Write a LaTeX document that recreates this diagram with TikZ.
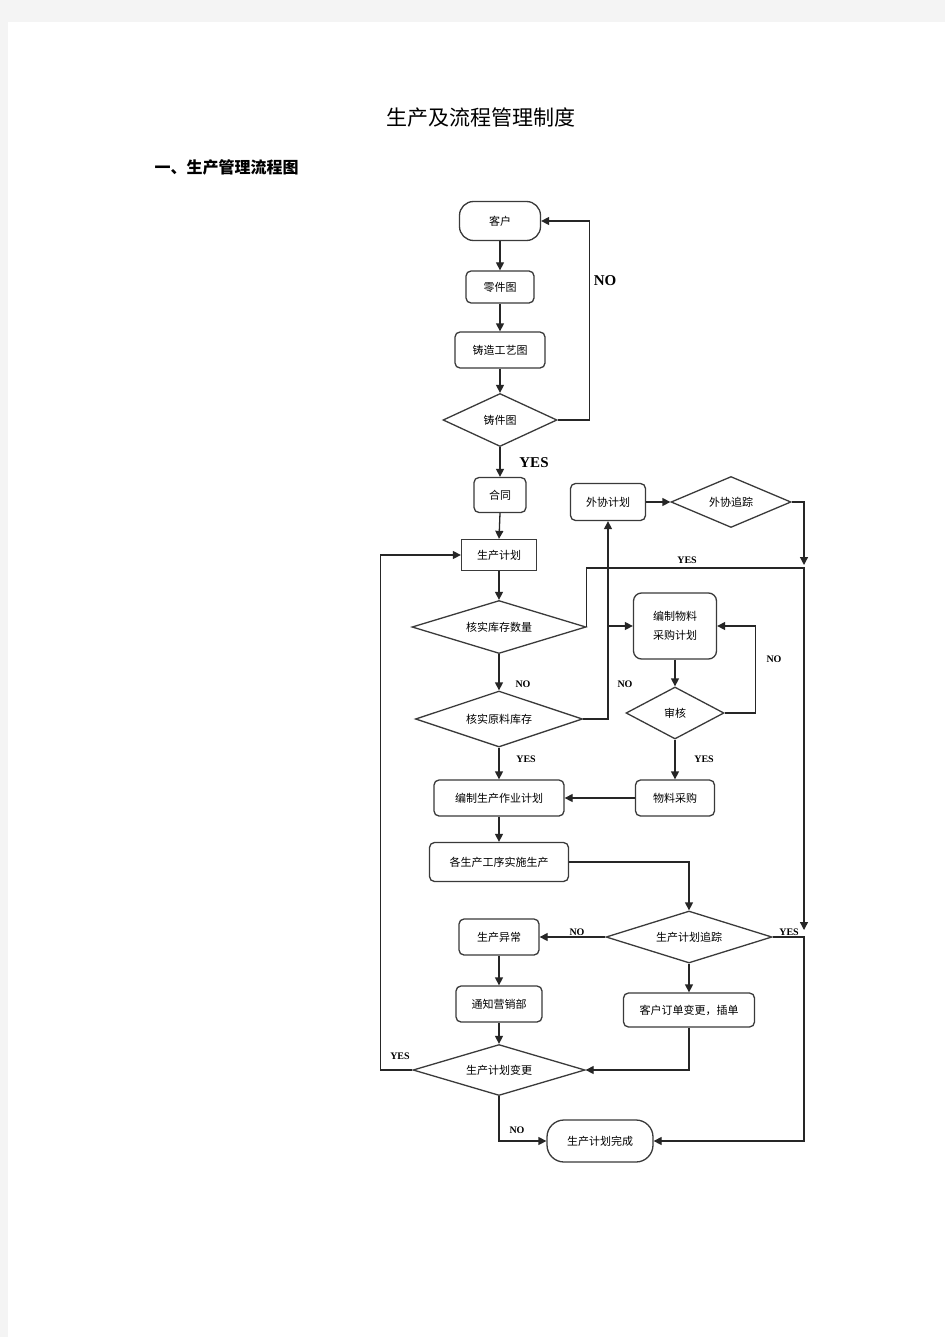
\documentclass[tikz,border=0pt]{standalone}
\usepackage{fontspec}
\setmainfont{Liberation Serif}
\newfontfamily\cjk{Noto Sans CJK SC}
\usetikzlibrary{shapes.geometric,arrows.meta}
\definecolor{pagegray}{HTML}{F4F4F4}
\definecolor{boxline}{HTML}{3A3A3A}
\tikzset{
  box/.style={draw=boxline, line width=1.3pt, rounded corners=5pt, fill=white, inner sep=0pt, font=\cjk\fontsize{11}{14}\selectfont, align=center},
  pill/.style={box, rounded corners=14pt},
  dia/.style={draw=boxline, line width=1.3pt, diamond, aspect=3.3, fill=white, inner sep=0pt, font=\cjk\fontsize{11}{14}\selectfont},
  arr/.style={line width=1.3pt, draw=black!85, -{Triangle[length=8pt,width=8pt]}},
  line/.style={line width=1.3pt, draw=black!85},
  lab/.style={font=\bfseries\fontsize{10}{12}\selectfont, inner sep=0pt},
  biglab/.style={font=\bfseries\fontsize{15}{18}\selectfont, inner sep=0pt}
}
\begin{document}
\begin{tikzpicture}[x=1pt,y=-1pt]
\fill[pagegray] (0,0) rectangle (945,1337);
\fill[white] (8,22) rectangle (945,1337);
\node[font=\cjk\fontsize{21}{26}\selectfont] (title) at (481,118) {生产及流程管理制度};
\node[font=\cjk\bfseries\fontsize{16}{20}\selectfont, anchor=west] (sub) at (151,167) {一、生产管理流程图};
\node[pill, minimum width=81, minimum height=39] (kehu) at (500,221) {客户};
\node[box, minimum width=68, minimum height=32] (lingjian) at (500,287) {零件图};
\node[box, minimum width=90, minimum height=36] (zhuzao) at (500,350) {铸造工艺图};
\node[dia, minimum width=114, minimum height=53] (zjt) at (500,420) {铸件图};
\node[box, minimum width=52, minimum height=35] (hetong) at (500,495) {合同};
\node[box, rounded corners=0pt, minimum width=75, minimum height=31] (jihua) at (499,555) {生产计划};
\node[box, minimum width=75, minimum height=37] (waixie) at (608,502) {外协计划};
\node[dia, minimum width=120, minimum height=51] (zhuizong) at (731,502) {外协追踪};
\node[dia, minimum width=174, minimum height=53] (kucun) at (499,627) {核实库存数量};
\node[box, rounded corners=8pt, minimum width=83, minimum height=66] (wuliao) at (675,626) {编制物料\\[5pt]采购计划};
\node[dia, minimum width=167, minimum height=56] (yuanliao) at (499,719) {核实原料库存};
\node[dia, minimum width=98, minimum height=52] (shenhe) at (675,713) {审核};
\node[box, minimum width=130, minimum height=36] (bianzhi) at (499,798) {编制生产作业计划};
\node[box, minimum width=79, minimum height=36] (caigou) at (675,798) {物料采购};
\node[box, minimum width=139, minimum height=39] (gexu) at (499,862) {各生产工序实施生产};
\node[dia, minimum width=166, minimum height=52] (gzz) at (689,937) {生产计划追踪};
\node[box, minimum width=80, minimum height=36] (yichang) at (499,937) {生产异常};
\node[box, minimum width=86, minimum height=36] (tongzhi) at (499,1004) {通知营销部};
\node[box, minimum width=131, minimum height=34] (dingdan) at (689,1010) {客户订单变更，插单};
\node[dia, minimum width=172, minimum height=51] (biangeng) at (499,1070) {生产计划变更};
\node[pill, rounded corners=17pt, minimum width=106, minimum height=42] (wancheng) at (600,1141) {生产计划完成};
\coordinate (r1) at (804,565);
\coordinate (r2) at (804,568);
\coordinate (r3) at (804,930);
\coordinate (r4) at (804,937);
\draw[arr] (kehu) -- (lingjian);
\draw[arr] (lingjian) -- (zhuzao);
\draw[arr] (zhuzao.south) -- (zjt.north);
\draw[arr] (zjt.east) -- ++(32,0) |- (kehu.east);
\draw[arr] (zjt.south) -- (hetong.north);
\draw[arr] (hetong.south) -- (jihua.north);
\draw[arr] (jihua.south) -- (kucun.north);
\draw[arr] (kucun.south) -- (yuanliao.north);
\draw[arr] (yuanliao.south) -- (bianzhi.north);
\draw[arr] (yuanliao.east) -| (waixie.south);
\draw[arr] (waixie.south |- wuliao.west) -- (wuliao.west);
\draw[arr] (waixie.east) -- (zhuizong.west);
\draw[arr] (zhuizong.east) -| (r1);
\draw[arr] (kucun.east) |- (r2) -- (r3);
\draw[arr] (wuliao.south) -- (shenhe.north);
\draw[arr] (shenhe.east) -- ++(31,0) |- (wuliao.east);
\draw[arr] (shenhe.south) -- (caigou.north);
\draw[arr] (caigou.west) -- (bianzhi.east);
\draw[arr] (bianzhi.south) -- (gexu.north);
\draw[arr] (gexu.east) -| (gzz.north);
\draw[arr] (gzz.west) -- (yichang.east);
\draw[arr] (gzz.south) -- (dingdan.north);
\draw[arr] (gzz.east) -- (r4) |- (wancheng.east);
\draw[arr] (yichang.south) -- (tongzhi.north);
\draw[arr] (tongzhi.south) -- (biangeng.north);
\draw[arr] (dingdan.south) |- (biangeng.east);
\draw[arr] (biangeng.west) -- ++(-32,0) |- (jihua.west);
\draw[arr] (biangeng.south) |- (wancheng.west);
\node[biglab] (noA) at (605,281) {NO};
\node[biglab] (yesA) at (534,463) {YES};
\node[lab] (yesB) at (687,560) {YES};
\node[lab] (noB) at (523,684) {NO};
\node[lab] (noC) at (625,684) {NO};
\node[lab] (noD) at (774,659) {NO};
\node[lab] (yesC) at (526,759) {YES};
\node[lab] (yesD) at (704,759) {YES};
\node[lab] (noE) at (577,932) {NO};
\node[lab] (yesE) at (789,932) {YES};
\node[lab] (yesF) at (400,1056) {YES};
\node[lab] (noF) at (517,1130) {NO};
\end{tikzpicture}
\end{document}
